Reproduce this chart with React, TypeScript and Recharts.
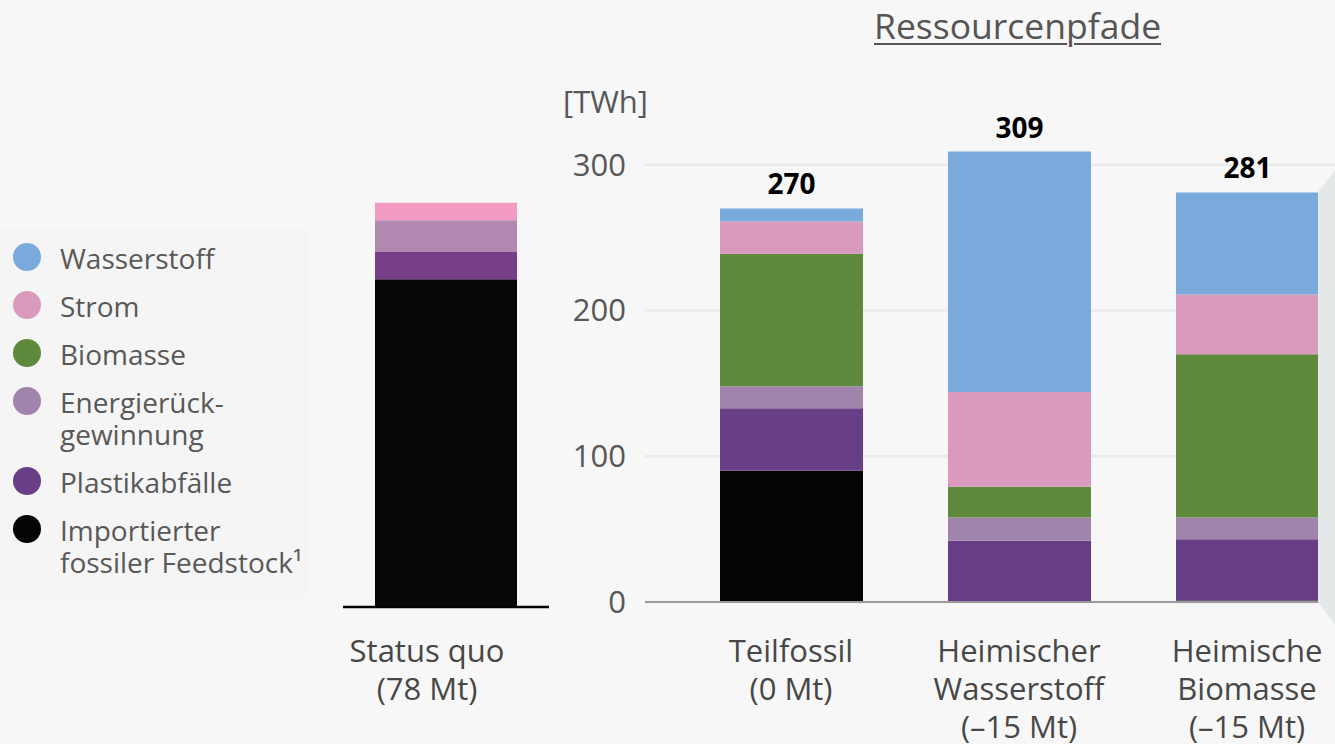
import { BarChart, Bar, XAxis, YAxis, CartesianGrid, LabelList } from 'recharts';

// Kategorien (Status quo + drei Ressourcenpfade)
const categories = ['Status quo', 'Teilfossil', 'Heimischer Wasserstoff', 'Heimische Biomasse'];
const categoryLines = [
  ['Status quo', '(78 Mt)'],
  ['Teilfossil', '(0 Mt)'],
  ['Heimischer', 'Wasserstoff', '(–15 Mt)'],
  ['Heimische', 'Biomasse', '(–15 Mt)'],
];

// Werte in TWh, von unten nach oben gestapelt
const fossil = [227, 90, 0, 1];
const plastic = [19, 43, 42, 42];
const energy = [22, 15, 16, 15];
const biomass = [0, 91, 21, 112];
const power = [12, 22, 65, 41];
const hydrogen = [0, 9, 165, 70];

const yTicks = [0, 100, 200, 300];

const series = [
  { key: 'fossil', name: 'Importierter fossiler Feedstock¹', lines: ['Importierter', 'fossiler Feedstock¹'], color: '#030505', sqColor: '#050608', values: fossil },
  { key: 'plastic', name: 'Plastikabfälle', lines: ['Plastikabfälle'], color: '#683F86', sqColor: '#773E89', values: plastic },
  { key: 'energy', name: 'Energierückgewinnung', lines: ['Energierück-', 'gewinnung'], color: '#A084AC', sqColor: '#B088B0', values: energy },
  { key: 'biomass', name: 'Biomasse', lines: ['Biomasse'], color: '#5F8A3D', sqColor: '#5F8A3D', values: biomass },
  { key: 'power', name: 'Strom', lines: ['Strom'], color: '#D99ABE', sqColor: '#F29BC2', values: power },
  { key: 'hydrogen', name: 'Wasserstoff', lines: ['Wasserstoff'], color: '#7AAADB', sqColor: '#7AAADB', values: hydrogen },
];

const rows = categories.map((name, i) => {
  const row: Record<string, any> = { name, lines: categoryLines[i] };
  let total = 0;
  series.forEach((s) => {
    row[s.key] = s.values[i];
    total += s.values[i];
  });
  row.total = total;
  return row;
});

const statusData = rows.slice(0, 1);
const pathData = rows.slice(1);

const FONT = '"Open Sans", sans-serif';

function CategoryTick({ x, y, payload, index, data, shift = 0, lift = 0 }: any) {
  const lines: string[] = data[index]?.lines ?? [payload.value];
  return (
    <text x={x + shift} y={y + 52 - lift} textAnchor="middle" fill="#474747" fontSize={31} fontFamily={FONT}>
      {lines.map((l, i) => (
        <tspan key={i} x={x + shift} dy={i === 0 ? 0 : 38}>
          {l}
        </tspan>
      ))}
    </text>
  );
}

export default function App() {
  const legendItems = [...series].reverse();
  return (
    <div
      style={{
        position: 'absolute',
        left: 0,
        top: 0,
        width: 1335,
        height: 744,
        overflow: 'hidden',
        background: '#F7F7F7',
        fontFamily: FONT,
      }}
    >
      {/* Legendenfeld */}
      <div style={{ position: 'absolute', left: 0, top: 229, width: 309, height: 369, background: '#F5F5F5' }} />
      <div style={{ position: 'absolute', left: 13, top: 242 }}>
        {legendItems.map((s) => (
          <div key={s.key} style={{ display: 'flex', alignItems: 'flex-start', marginBottom: 16 }}>
            <div
              style={{ width: 28, height: 28, borderRadius: 14, background: s.color, marginTop: 1, flexShrink: 0 }}
            />
            <div style={{ marginLeft: 19, fontSize: 28, lineHeight: '32px', color: '#585858', whiteSpace: 'nowrap' }}>
              {s.lines.map((l, i) => (
                <div key={i}>{l}</div>
              ))}
            </div>
          </div>
        ))}
      </div>

      {/* Titel */}
      <div
        style={{
          position: 'absolute',
          left: 874,
          top: 8,
          fontSize: 35.5,
          lineHeight: '35px',
          color: '#555',
          textDecoration: 'underline',
          textUnderlineOffset: 4,
          textDecorationThickness: 2,
          whiteSpace: 'nowrap',
        }}
      >
        Ressourcenpfade
      </div>

      <div style={{ position: 'absolute', left: 563, top: 86, fontSize: 31, lineHeight: '31px', color: '#585858' }}>
        [TWh]
      </div>

      {/* Status quo */}
      <div style={{ position: 'absolute', left: 343, top: 0 }}>
        <BarChart width={206} height={744} data={statusData} margin={{ top: 174, right: 0, bottom: 0, left: 0 }}>
          <XAxis
            dataKey="name"
            height={137}
            tickLine={false}
            axisLine={{ stroke: '#000', strokeWidth: 2.5 }}
            tick={<CategoryTick data={statusData} shift={-19} lift={5} />}
            interval={0}
          />
          <YAxis hide domain={[0, 300]} />
          {series.map((s, i) => (
            <Bar key={s.key} dataKey={s.key} stackId="a" fill={s.sqColor} barSize={142} isAnimationActive={false}>
              {i === series.length - 1 && (
                <LabelList
                  dataKey="total"
                  position="top"
                  offset={21}
                  fill="#000"
                  fontSize={28}
                  fontWeight={700}
                  fontFamily={FONT}
                />
              )}
            </Bar>
          ))}
        </BarChart>
      </div>

      {/* Ressourcenpfade */}
      <div style={{ position: 'absolute', left: 545, top: 0 }}>
        <BarChart width={848} height={744} data={pathData} margin={{ top: 121, right: 0, bottom: 0, left: 0 }}>
          <CartesianGrid vertical={false} horizontalValues={yTicks} stroke="#EAEAEA" strokeWidth={2.5} />
          <XAxis
            dataKey="name"
            height={142}
            tickLine={false}
            axisLine={{ stroke: '#9A9A9A', strokeWidth: 2 }}
            padding={{ left: 32, right: 32 }}
            tick={<CategoryTick data={pathData} />}
            interval={0}
          />
          <YAxis
            width={100}
            domain={[0, 330]}
            ticks={yTicks}
            axisLine={false}
            tickLine={false}
            tickMargin={13}
            tick={{ fill: '#585858', fontSize: 31, fontFamily: FONT }}
          />
          {series.map((s, i) => (
            <Bar key={s.key} dataKey={s.key} stackId="a" fill={s.color} barSize={143} isAnimationActive={false}>
              {i === series.length - 1 && (
                <LabelList
                  dataKey="total"
                  position="top"
                  offset={14}
                  fill="#000"
                  fontSize={28}
                  fontWeight={700}
                  fontFamily={FONT}
                />
              )}
            </Bar>
          ))}
        </BarChart>
      </div>

      {/* Kante rechts */}
      <div
        style={{
          position: 'absolute',
          left: 1318,
          top: 170,
          width: 17,
          height: 455,
          background: '#E5E8E8',
          clipPath: 'polygon(100% 0, 0 22px, 0 432px, 100% 100%)',
        }}
      />
    </div>
  );
}
